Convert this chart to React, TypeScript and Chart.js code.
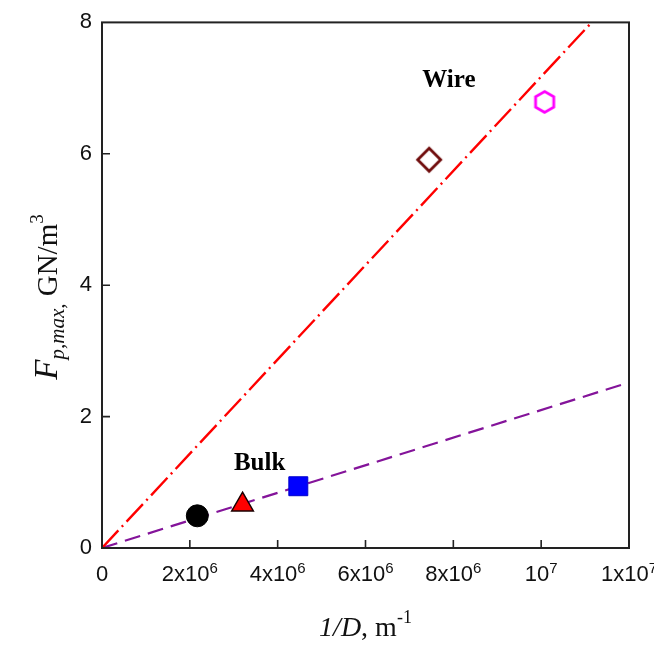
import React, { useEffect, useRef } from "react";
import { Chart, registerables } from "chart.js";

Chart.register(...registerables);

// ---- data ----
const xTicks = [0, 2e6, 4e6, 6e6, 8e6, 1e7, 1.2e7];
const xTickBase = ["0", "2x10", "4x10", "6x10", "8x10", "10", "1x10"];
const xTickSup = ["", "6", "6", "6", "6", "7", "7"];
const yTicks = [0, 2, 4, 6, 8];
const yTickLabels = ["0", "2", "4", "6", "8"];

const bulkCircle = [{ x: 2.17e6, y: 0.49 }];
const bulkTriangle = [{ x: 3.2e6, y: 0.66 }];
const bulkSquare = [{ x: 4.47e6, y: 0.94 }];
const wireDiamond = [{ x: 7.45e6, y: 5.91 }];
const wireHexagon = [{ x: 1.008e7, y: 6.79 }];
const wireFit = [{ x: 0, y: 0 }, { x: 1.115e7, y: 8 }];
const bulkFit = [{ x: 0, y: 0 }, { x: 1.2e7, y: 2.52 }];
const groupLabels = ["Wire", "Bulk"];
const groupLabelX = [7.9e6, 3.59e6];
const groupLabelY = [7.11, 1.29];

const SERIF = "'Liberation Serif', 'Times New Roman', serif";
const SANS = "'Liberation Sans', Arial, sans-serif";

function makeHexagon(): HTMLCanvasElement {
  const c = document.createElement("canvas");
  c.width = 28;
  c.height = 28;
  const g = c.getContext("2d")!;
  const r = 10.5;
  g.beginPath();
  for (let i = 0; i < 6; i++) {
    const a = Math.PI / 2 + (i * Math.PI) / 3;
    const px = 14 + r * Math.cos(a);
    const py = 14 + r * Math.sin(a);
    if (i === 0) g.moveTo(px, py);
    else g.lineTo(px, py);
  }
  g.closePath();
  g.fillStyle = "#ffffff";
  g.fill();
  g.lineWidth = 2.8;
  g.strokeStyle = "#ff00ff";
  g.stroke();
  return c;
}

function makeDiamond(): HTMLCanvasElement {
  const c = document.createElement("canvas");
  c.width = 30;
  c.height = 30;
  const g = c.getContext("2d")!;
  const r = 11.5;
  g.beginPath();
  g.moveTo(15, 15 - r);
  g.lineTo(15 + r, 15);
  g.lineTo(15, 15 + r);
  g.lineTo(15 - r, 15);
  g.closePath();
  g.fillStyle = "#ffffff";
  g.fill();
  g.lineWidth = 2.8;
  g.strokeStyle = "#6e0a0a";
  g.stroke();
  return c;
}

type Seg = { t: string; font: string; dy: number };

function drawSegs(ctx: CanvasRenderingContext2D, segs: Seg[], cx: number, baseY: number) {
  let total = 0;
  const widths = segs.map((s) => {
    ctx.font = s.font;
    const w = ctx.measureText(s.t).width;
    total += w;
    return w;
  });
  let x = cx - total / 2;
  segs.forEach((s, i) => {
    ctx.font = s.font;
    ctx.fillText(s.t, x, baseY + s.dy);
    x += widths[i];
  });
}

const axesPlugin = {
  id: "customAxes",
  afterDatasetsDraw(chart: any) {
    const { ctx, chartArea: a, scales } = chart;
    const xs = scales.x;
    const ys = scales.y;
    ctx.save();
    ctx.strokeStyle = "#222222";
    ctx.lineWidth = 2;
    ctx.strokeRect(a.left, a.top, a.right - a.left, a.bottom - a.top);

    ctx.lineWidth = 1.6;
    ctx.beginPath();
    xTicks.forEach((v) => {
      const px = xs.getPixelForValue(v);
      if (px > a.left + 2 && px < a.right - 2) {
        ctx.moveTo(px, a.bottom);
        ctx.lineTo(px, a.bottom - 8);
      }
    });
    yTicks.forEach((v) => {
      const py = ys.getPixelForValue(v);
      if (py > a.top + 2 && py < a.bottom - 2) {
        ctx.moveTo(a.left, py);
        ctx.lineTo(a.left + 8, py);
      }
    });
    ctx.stroke();

    ctx.fillStyle = "#111111";
    ctx.textBaseline = "alphabetic";
    ctx.textAlign = "left";
    xTicks.forEach((v, i) => {
      const px = xs.getPixelForValue(v);
      drawSegs(
        ctx,
        [
          { t: xTickBase[i], font: `22px ${SANS}`, dy: 0 },
          { t: xTickSup[i], font: `15px ${SANS}`, dy: -8 },
        ],
        px,
        a.bottom + 33
      );
    });

    ctx.font = `22px ${SANS}`;
    ctx.textAlign = "right";
    ctx.textBaseline = "middle";
    yTicks.forEach((v, i) => {
      const py = ys.getPixelForValue(v);
      ctx.fillText(yTickLabels[i], a.left - 10, py);
    });

    // group labels
    ctx.textAlign = "center";
    ctx.textBaseline = "middle";
    ctx.font = `bold 25px ${SERIF}`;
    ctx.fillStyle = "#000000";
    groupLabels.forEach((t, i) => {
      ctx.fillText(t, xs.getPixelForValue(groupLabelX[i]), ys.getPixelForValue(groupLabelY[i]));
    });

    // x title
    ctx.textAlign = "left";
    ctx.textBaseline = "alphabetic";
    ctx.fillStyle = "#111111";
    drawSegs(
      ctx,
      [
        { t: "1/D", font: `italic 28px ${SERIF}`, dy: 0 },
        { t: ", m", font: `28px ${SERIF}`, dy: 0 },
        { t: "-1", font: `18px ${SERIF}`, dy: -13 },
      ],
      (a.left + a.right) / 2,
      628
    );

    // y title
    ctx.save();
    ctx.translate(49, 289);
    ctx.rotate(-Math.PI / 2);
    drawSegs(
      ctx,
      [
        { t: "F", font: `italic 33px ${SERIF}`, dy: 0 },
        { t: "p,max", font: `italic 21px ${SERIF}`, dy: 7 },
        { t: ",", font: `italic 21px ${SERIF}`, dy: 7 },
        { t: " GN/m", font: `29px ${SERIF}`, dy: 0 },
        { t: "3", font: `19px ${SERIF}`, dy: -14 },
      ],
      0,
      0
    );
    ctx.restore();
    ctx.restore();
  },
};

export default function App() {
  const ref = useRef<HTMLCanvasElement | null>(null);
  useEffect(() => {
    if (!ref.current) return;
    const hex = makeHexagon();
    const dia = makeDiamond();
    const chart = new Chart(ref.current, {
      type: "scatter",
      data: {
        datasets: [
          {
            label: "circle",
            data: bulkCircle,
            pointStyle: "circle",
            pointRadius: 11,
            backgroundColor: "#000000",
            borderColor: "#000000",
            borderWidth: 1,
            order: 1,
          },
          {
            label: "triangle",
            data: bulkTriangle,
            pointStyle: "triangle",
            pointRadius: 12.5,
            backgroundColor: "#ff0000",
            borderColor: "#1a0000",
            borderWidth: 1.5,
            order: 1,
          },
          {
            label: "square",
            data: bulkSquare,
            pointStyle: "rect",
            pointRadius: 13.4,
            backgroundColor: "#0000ff",
            borderColor: "#0000cc",
            borderWidth: 1,
            order: 1,
          },
          {
            label: "diamond",
            data: wireDiamond,
            pointStyle: dia as any,
            pointRadius: 12,
            order: 1,
          },
          {
            label: "hexagon",
            data: wireHexagon,
            pointStyle: hex as any,
            pointRadius: 10,
            order: 1,
          },
          {
            type: "line",
            label: "wire fit",
            data: wireFit,
            borderColor: "#ff0000",
            borderWidth: 2.4,
            borderDash: [24, 5, 2, 5],
            pointRadius: 0,
            fill: false,
            order: 2,
          } as any,
          {
            type: "line",
            label: "bulk fit",
            data: bulkFit,
            borderColor: "#84149a",
            borderWidth: 2.2,
            borderDash: [16, 8],
            pointRadius: 0,
            fill: false,
            order: 2,
          } as any,
        ],
      },
      options: {
        responsive: false,
        animation: false,
        layout: { padding: { left: 94, right: 25, top: 13, bottom: 98 } },
        plugins: { legend: { display: false }, tooltip: { enabled: false } },
        scales: {
          x: { type: "linear", min: 0, max: 1.2e7, display: false },
          y: { type: "linear", min: 0, max: 8, display: false },
        },
      },
      plugins: [axesPlugin],
    });
    return () => chart.destroy();
  }, []);
  return (
    <div style={{ width: 646, height: 638 }}>
      <canvas ref={ref} width={646} height={638} style={{ display: "block" }} />
    </div>
  );
}
